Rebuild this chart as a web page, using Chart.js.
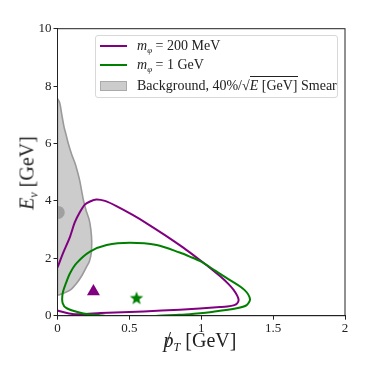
<!DOCTYPE html>
<html>
<head>
<meta charset="utf-8">
<script src="https://cdn.jsdelivr.net/npm/chart.js@4/dist/chart.umd.min.js"></script>
<style>
  body { margin: 0; background: #fff; }
  #wrap { position: relative; width: 374px; height: 374px; font-family: 'Liberation Serif', 'DejaVu Serif', serif; color: #222; }
  #chart { position: absolute; left: 0; top: 0; }
  #legend {
    position: absolute; left: 95px; top: 35px; width: 241px; height: 61px;
    border: 1px solid #d8d8d8; border-radius: 3px; background: rgba(255,255,255,0.85);
    font-size: 14px;
  }
  .row { position: absolute; left: 0; height: 18px; display: flex; align-items: center; white-space: nowrap; }
  .handle { width: 27px; margin-left: 4px; margin-right: 10px; }
  .line { height: 2px; }
  .patch { height: 10px; background: #cccccc; border: 1px solid #aaa; box-sizing: border-box; }
  i { font-style: italic; }
  sub { font-size: 9px; vertical-align: -3px; line-height: 0; }
  .sqrt { border-top: 1px solid #222; padding-top: 1px; }
  .title sub { font-size: 12px; vertical-align: -4px; }
  #ytitle { position: absolute; left: 27px; top: 173px; transform: translate(-50%, -50%) rotate(-90deg); font-size: 20px; white-space: nowrap; }
  #xtitle { position: absolute; left: 200px; top: 340px; transform: translate(-50%, -50%); font-size: 20px; white-space: nowrap; }
  .slash { position: relative; display: inline-block; }
  .slash span { position: absolute; left: 2px; top: -1px; font-style: normal; }
</style>
</head>
<body>
<div id="wrap">
  <canvas id="chart" width="374" height="374"></canvas>
  <div id="legend">
    <div class="row" style="top:1px"><div class="handle line" style="background:#800080"></div><span><i>m</i><sub><i>φ</i></sub> = 200 MeV</span></div>
    <div class="row" style="top:20px"><div class="handle line" style="background:#008000"></div><span><i>m</i><sub><i>φ</i></sub> = 1 GeV</span></div>
    <div class="row" style="top:41px"><div class="handle patch"></div><span>Background, 40%/√<span class="sqrt"><i>E</i> [GeV]</span> Smear</span></div>
  </div>
  <div id="ytitle" class="title"><i>E</i><sub><i>ν</i></sub> [GeV]</div>
  <div id="xtitle" class="title"><span class="slash"><i>p</i><span>/</span></span><sub><i>T</i></sub> [GeV]</div>
</div>
<script>
// contour for m_phi = 200 MeV
const purpleX = [0, 0.04, 0.087, 0.12, 0.157, 0.19, 0.226, 0.27, 0.33, 0.41, 0.52, 0.62, 0.75, 0.875, 0.99, 1.07, 1.13, 1.19, 1.225, 1.25, 1.26, 1.25, 1.23, 1.18, 1.13, 0.85, 0.6, 0.3, 0.16, 0.08, 0];
const purpleY = [1.68, 2.2, 2.75, 3.25, 3.62, 3.87, 3.98, 4.05, 4.0, 3.82, 3.52, 3.22, 2.8, 2.37, 1.94, 1.63, 1.38, 1.1, 0.9, 0.7, 0.55, 0.43, 0.37, 0.32, 0.3, 0.21, 0.15, 0.09, 0.05, 0.08, 0.18];

// contour for m_phi = 1 GeV
const greenX = [0.296, 0.18, 0.064, 0.036, 0.036, 0.06, 0.087, 0.133, 0.226, 0.342, 0.504, 0.69, 0.85, 0.92, 1.0, 1.1, 1.2, 1.3, 1.339, 1.316, 1.247, 1.084, 0.95, 0.85, 0.7, 0.62, 0.45, 0.35, 0.296];
const greenY = [0.02, 0.08, 0.26, 0.43, 0.78, 1.15, 1.48, 1.83, 2.23, 2.46, 2.54, 2.46, 2.2, 2.06, 1.88, 1.56, 1.24, 0.9, 0.58, 0.37, 0.26, 0.14, 0.07, 0.03, 0.0, -0.03, -0.06, -0.02, 0.02];

// background region
const bgX = [0, 0, 0.015, 0.03, 0.045, 0.06, 0.075, 0.1, 0.122, 0.14, 0.155, 0.168, 0.18, 0.2, 0.221, 0.232, 0.238, 0.235, 0.222, 0.203, 0.17, 0.133, 0.09, 0.04, 0.015, 0];
const bgY = [0.72, 7.54, 7.42, 7.0, 6.59, 6.3, 6.0, 5.6, 5.31, 5.0, 4.7, 4.35, 4.03, 3.65, 3.33, 3.0, 2.6, 2.2, 1.9, 1.71, 1.4, 1.13, 0.9, 0.78, 0.73, 0.72];

// benchmark points
const triPoint = [0.25, 0.84];
const starPoint = [0.55, 0.6];
const bgPoint = [0.005, 3.6];

const xTicks = [0, 0.5, 1, 1.5, 2];
const yTicks = [0, 2, 4, 6, 8, 10];

const toXY = (xs, ys) => xs.map((x, i) => ({ x: x, y: ys[i] }));

function starImage(r, color) {
  const c = document.createElement('canvas');
  c.width = c.height = Math.ceil(r * 2 + 2);
  const g = c.getContext('2d');
  const cx = c.width / 2, cy = c.height / 2;
  g.beginPath();
  for (let i = 0; i < 10; i++) {
    const a = -Math.PI / 2 + i * Math.PI / 5;
    const rr = i % 2 === 0 ? r : r * 0.42;
    g.lineTo(cx + rr * Math.cos(a), cy + rr * Math.sin(a));
  }
  g.closePath();
  g.fillStyle = color;
  g.fill();
  return c;
}

const frame = {
  id: 'frame',
  afterDraw(chart) {
    const a = chart.chartArea, ctx = chart.ctx;
    ctx.save();
    ctx.strokeStyle = '#222';
    ctx.lineWidth = 1;
    ctx.strokeRect(a.left, a.top, a.right - a.left, a.bottom - a.top);
    ctx.restore();
  }
};

const tickFont = { family: "'Liberation Serif', serif", size: 13 };

new Chart(document.getElementById('chart'), {
  type: 'scatter',
  data: {
    datasets: [
      {
        data: toXY(bgX, bgY), showLine: true, fill: 'shape', tension: 0.3,
        backgroundColor: '#cccccc', borderColor: '#9a9a9a', borderWidth: 1.6,
        pointRadius: 0, clip: 0, order: 5
      },
      {
        data: [{ x: bgPoint[0], y: bgPoint[1] }], pointStyle: 'circle', pointRadius: 6.5,
        backgroundColor: '#a0a0a0', borderWidth: 0, clip: 0, order: 4
      },
      {
        data: toXY(purpleX, purpleY), showLine: true, tension: 0.3,
        borderColor: '#800080', borderWidth: 2, pointRadius: 0, clip: 0, order: 2
      },
      {
        data: toXY(greenX, greenY), showLine: true, tension: 0.3,
        borderColor: '#008000', borderWidth: 2, pointRadius: 0, clip: 0, order: 1
      },
      {
        data: [{ x: triPoint[0], y: triPoint[1] }], pointStyle: 'triangle', pointRadius: 7.5,
        backgroundColor: '#800080', borderColor: '#800080', borderWidth: 0, order: 0
      },
      {
        data: [{ x: starPoint[0], y: starPoint[1] }], pointStyle: starImage(7, '#008000'),
        pointRadius: 7, order: 0
      }
    ]
  },
  options: {
    responsive: false,
    animation: false,
    devicePixelRatio: 1,
    layout: { padding: { left: 20, right: 29, top: 28.7, bottom: 38.3 } },
    plugins: { legend: { display: false }, tooltip: { enabled: false } },
    scales: {
      x: {
        type: 'linear', min: 0, max: 2,
        afterBuildTicks: s => { s.ticks = xTicks.map(v => ({ value: v })); },
        afterFit: s => { s.height = 20; },
        ticks: { font: tickFont, color: '#222', padding: 1, maxRotation: 0, callback: v => String(v) },
        grid: { drawOnChartArea: false, tickLength: 4, color: '#222' },
        border: { color: '#222' }
      },
      y: {
        type: 'linear', min: 0, max: 10,
        afterBuildTicks: s => { s.ticks = yTicks.map(v => ({ value: v })); },
        afterFit: s => { s.width = 37.5; },
        ticks: { font: tickFont, color: '#222', padding: 2, callback: v => String(v) },
        grid: { drawOnChartArea: false, tickLength: 4, color: '#222' },
        border: { color: '#222' }
      }
    }
  },
  plugins: [frame]
});
</script>
</body>
</html>
